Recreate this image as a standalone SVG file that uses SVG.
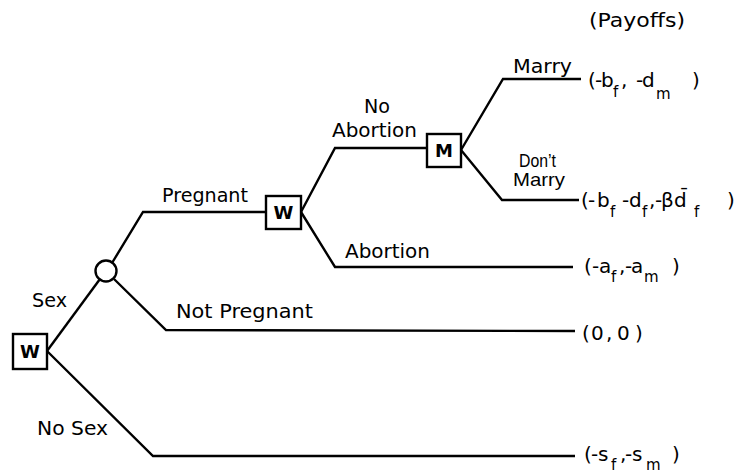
<svg xmlns="http://www.w3.org/2000/svg" width="737" height="473" viewBox="0 0 737 473">
<style>
.ln{fill:none;stroke:#000;stroke-width:2.4;stroke-linejoin:miter}
.bx{fill:#fff;stroke:#000;stroke-width:2.4}
text{font-family:"DejaVu Sans","Liberation Sans",sans-serif;font-size:20px;fill:#000}
.nd{font-weight:bold;font-size:18px;text-anchor:middle}
.sb{font-size:15px}
.sm{font-family:"Liberation Sans","DejaVu Sans",sans-serif;font-size:19px}
</style>
<g id="connectors">
<polyline class="ln" points="47,351 100,279"/>
<polyline class="ln" points="112,263 143,212 266,212"/>
<polyline class="ln" points="114,279 166,330 575,331"/>
<polyline class="ln" points="47,351 153,456 575,456"/>
<polyline class="ln" points="301,212 335,148 427,148"/>
<polyline class="ln" points="301,212 335,267 573,267"/>
<polyline class="ln" points="461,150 503,79 581,79"/>
<polyline class="ln" points="461,150 502,200 579,200"/>
</g>
<g id="node-w-root">
<rect class="bx" x="13" y="334" width="34" height="35"/>
<text class="nd" x="30" y="358">W</text>
</g>
<g id="node-chance">
<circle class="bx" cx="106" cy="271" r="10.5"/>
</g>
<g id="node-w-pregnant">
<rect class="bx" x="266" y="196" width="35" height="33"/>
<text class="nd" x="283.5" y="219">W</text>
</g>
<g id="node-m">
<rect class="bx" x="427" y="134" width="34" height="33"/>
<text class="nd" x="444" y="157">M</text>
</g>
<g id="labels">
<text x="32" y="307" textLength="35" lengthAdjust="spacingAndGlyphs">Sex</text>
<text x="37" y="435" textLength="71" lengthAdjust="spacingAndGlyphs">No Sex</text>
<text x="162" y="202" textLength="86" lengthAdjust="spacingAndGlyphs">Pregnant</text>
<text x="176" y="318" textLength="137" lengthAdjust="spacingAndGlyphs">Not Pregnant</text>
<text x="364" y="113" textLength="26" lengthAdjust="spacingAndGlyphs">No</text>
<text x="332" y="137" textLength="85" lengthAdjust="spacingAndGlyphs">Abortion</text>
<text x="345" y="258" textLength="85" lengthAdjust="spacingAndGlyphs">Abortion</text>
<text x="513" y="73" textLength="59" lengthAdjust="spacingAndGlyphs">Marry</text>
<text class="sm" x="519" y="167" textLength="37" lengthAdjust="spacingAndGlyphs">Don’t</text>
<text class="sm" x="513" y="186" textLength="52" lengthAdjust="spacingAndGlyphs">Marry</text>
</g>
<g id="payoffs">
<text x="589" y="27" textLength="96" lengthAdjust="spacingAndGlyphs">(Payoffs)</text>
<text y="87"><tspan x="588">(</tspan><tspan x="595">-</tspan><tspan x="601">b</tspan><tspan class="sb" x="613" y="97">f</tspan><tspan x="621" y="87">,</tspan><tspan x="636">-</tspan><tspan x="642">d</tspan><tspan class="sb" x="656" y="99">m</tspan><tspan x="692" y="87">)</tspan></text>
<text y="207"><tspan x="581">(</tspan><tspan x="588">-</tspan><tspan x="597">b</tspan><tspan class="sb" x="610" y="217">f</tspan><tspan x="622" y="207">-</tspan><tspan x="629">d</tspan><tspan class="sb" x="642" y="217">f</tspan><tspan x="649" y="207">,</tspan><tspan x="655">-</tspan><tspan x="661">β</tspan><tspan x="674">d̄</tspan><tspan class="sb" x="694" y="217">f</tspan><tspan x="727" y="207">)</tspan></text>
<text y="273"><tspan x="584">(</tspan><tspan x="592">-</tspan><tspan x="599">a</tspan><tspan class="sb" x="611" y="282">f</tspan><tspan x="619" y="273">,</tspan><tspan x="625">-</tspan><tspan x="631">a</tspan><tspan class="sb" x="644" y="282">m</tspan><tspan x="672" y="273">)</tspan></text>
<text y="340"><tspan x="582">(</tspan><tspan x="591">0</tspan><tspan x="606">,</tspan><tspan x="617">0</tspan><tspan x="635">)</tspan></text>
<text y="461"><tspan x="584">(</tspan><tspan x="591">-</tspan><tspan x="598">s</tspan><tspan class="sb" x="611" y="470">f</tspan><tspan x="620" y="461">,</tspan><tspan x="625">-</tspan><tspan x="632">s</tspan><tspan class="sb" x="646" y="470">m</tspan><tspan x="672" y="461">)</tspan></text>
</g>
</svg>
